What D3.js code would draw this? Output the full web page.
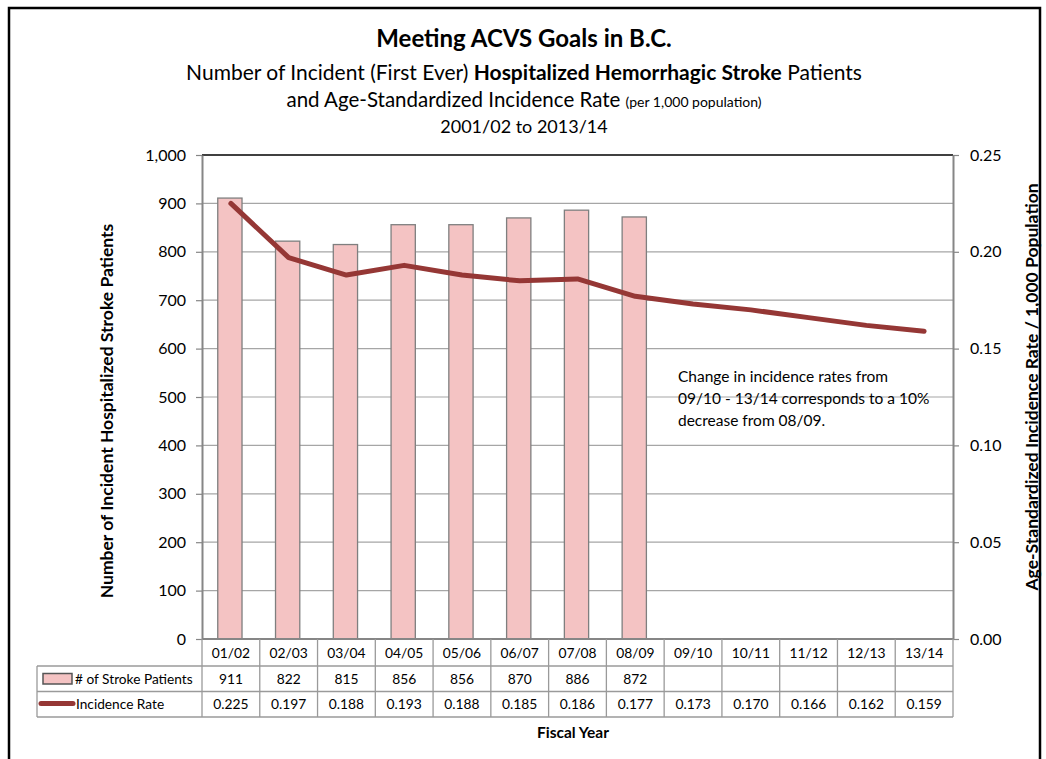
<!DOCTYPE html>
<html>
<head>
<meta charset="utf-8">
<script src="https://cdn.jsdelivr.net/npm/d3@7"></script>
<style>
  body { margin: 0; background: #fff; }
  text { font-family: Lato, "Open Sans", sans-serif; fill: #000; }
</style>
</head>
<body>
<svg id="chart" width="1046" height="759"></svg>
<script>
// data
const years = ['01/02', '02/03', '03/04', '04/05', '05/06', '06/07', '07/08', '08/09', '09/10', '10/11', '11/12', '12/13', '13/14'];
const patients = [911, 822, 815, 856, 856, 870, 886, 872];
const rates = [0.225, 0.197, 0.188, 0.193, 0.188, 0.185, 0.186, 0.177, 0.173, 0.170, 0.166, 0.162, 0.159];
const leftTicks = [0, 100, 200, 300, 400, 500, 600, 700, 800, 900, 1000];
const rightTicks = [0, 0.05, 0.10, 0.15, 0.20, 0.25];

const svg = d3.select('#chart');
const plot = { left: 202, right: 953, top: 155, bottom: 639 };
const barColor = '#f4c3c3', barEdge = '#7f7f7f', lineColor = '#953735', gridColor = '#a6a6a6';

// outer frame
svg.append('rect')
  .attr('x', 9).attr('y', 8).attr('width', 1031).attr('height', 780)
  .attr('fill', 'none').attr('stroke', '#000').attr('stroke-width', 2.5);

// titles
const titles = svg.append('g').attr('text-anchor', 'middle');
titles.append('text').attr('x', 524).attr('y', 47)
  .style('font-size', '24px').style('font-weight', 'bold').text('Meeting ACVS Goals in B.C.');
const sub = titles.append('text').attr('x', 524).attr('y', 80).style('font-size', '21px');
sub.append('tspan').text('Number of Incident (First Ever) ');
sub.append('tspan').style('font-weight', 'bold').text('Hospitalized Hemorrhagic Stroke');
sub.append('tspan').text(' Patients');
const sub2 = titles.append('text').attr('x', 524).attr('y', 107).style('font-size', '20.5px');
sub2.append('tspan').text('and Age-Standardized Incidence Rate ');
sub2.append('tspan').style('font-size', '14px').text('(per 1,000 population)');
titles.append('text').attr('x', 524).attr('y', 133).style('font-size', '18px').text('2001/02 to 2013/14');

// scales
const x = d3.scaleBand().domain(years).range([plot.left, plot.right]).padding(0);
const yL = d3.scaleLinear().domain([0, 1000]).range([plot.bottom, plot.top]);
const yR = d3.scaleLinear().domain([0, 0.25]).range([plot.bottom, plot.top]);

// gridlines
svg.append('g').selectAll('line').data(leftTicks.slice(1, -1)).join('line')
  .attr('x1', plot.left).attr('x2', plot.right)
  .attr('y1', d => yL(d)).attr('y2', d => yL(d))
  .attr('stroke', gridColor).attr('stroke-width', 1.2);
svg.append('line')
  .attr('x1', plot.left).attr('x2', plot.right)
  .attr('y1', yL(1000)).attr('y2', yL(1000))
  .attr('stroke', '#000').attr('stroke-width', 1.5);

// axes
const axL = svg.append('g').attr('transform', `translate(${plot.left},0)`)
  .call(d3.axisLeft(yL).tickValues(leftTicks).tickFormat(d3.format(',')).tickSize(6).tickSizeOuter(0));
const axR = svg.append('g').attr('transform', `translate(${plot.right},0)`)
  .call(d3.axisRight(yR).tickValues(rightTicks).tickFormat(d3.format('.2f')).tickSize(6).tickSizeOuter(0));
[axL, axR].forEach(ax => {
  ax.select('.domain').attr('stroke', '#868686').attr('stroke-width', 2);
  ax.selectAll('.tick line').attr('stroke', '#868686').attr('stroke-width', 1.2);
  ax.selectAll('.tick text').style('font-size', '16px').style('font-family', 'Lato, sans-serif').attr('fill', '#000');
});
axL.selectAll('.tick text').attr('x', -16);
axR.selectAll('.tick text').attr('x', 17);

// axis titles
svg.append('text')
  .attr('transform', `translate(113,${(plot.top + plot.bottom) / 2 + 14}) rotate(-90)`)
  .attr('text-anchor', 'middle').style('font-size', '17.5px').style('font-weight', 'bold')
  .text('Number of Incident Hospitalized Stroke Patients');
svg.append('text')
  .attr('transform', `translate(1038,${(plot.top + plot.bottom) / 2 - 10}) rotate(-90)`)
  .attr('text-anchor', 'middle').style('font-size', '17.5px').style('font-weight', 'bold')
  .text('Age-Standardized Incidence Rate / 1,000 Population');

// bars
const barW = x.bandwidth() * 0.42;
svg.append('g').selectAll('rect').data(patients).join('rect')
  .attr('x', (d, i) => x(years[i]) + x.bandwidth() / 2 - barW / 2 - 1)
  .attr('y', d => yL(d))
  .attr('width', barW)
  .attr('height', d => yL(0) - yL(d))
  .attr('fill', barColor).attr('stroke', barEdge).attr('stroke-width', 1.3);

// rate line
const line = d3.line()
  .x((d, i) => x(years[i]) + x.bandwidth() / 2)
  .y(d => yR(d));
svg.append('path').datum(rates)
  .attr('d', line)
  .attr('fill', 'none').attr('stroke', lineColor).attr('stroke-width', 5)
  .attr('stroke-linejoin', 'round').attr('stroke-linecap', 'round');

// annotation
const note = svg.append('text').attr('x', 678).attr('y', 382).style('font-size', '15.5px');
['Change in incidence rates from', '09/10 - 13/14 corresponds to a  10%', 'decrease from 08/09.']
  .forEach((t, i) => note.append('tspan').attr('x', 678).attr('dy', i ? 22 : 0).text(t));

// data table
const rows = [plot.bottom, 666, 691.5, 717];
const legendLeft = 37;
const table = svg.append('g');
const tableStroke = '#9a9a9a';
// horizontal lines
table.append('line').attr('x1', plot.left).attr('x2', plot.right).attr('y1', rows[0]).attr('y2', rows[0])
  .attr('stroke', '#868686').attr('stroke-width', 2);
rows.slice(1).forEach(y => {
  table.append('line').attr('x1', legendLeft).attr('x2', plot.right).attr('y1', y).attr('y2', y)
    .attr('stroke', tableStroke).attr('stroke-width', 1.3);
});
// vertical lines
const colEdges = years.map(d => x(d)).concat([plot.right]);
table.selectAll('line.col').data(colEdges).join('line').attr('class', 'col')
  .attr('x1', d => d).attr('x2', d => d).attr('y1', rows[0]).attr('y2', rows[3])
  .attr('stroke', tableStroke).attr('stroke-width', 1.3);
table.append('line').attr('x1', legendLeft).attr('x2', legendLeft).attr('y1', rows[1]).attr('y2', rows[3])
  .attr('stroke', tableStroke).attr('stroke-width', 1.3);

// header labels
table.selectAll('text.yr').data(years).join('text').attr('class', 'yr')
  .attr('x', d => x(d) + x.bandwidth() / 2).attr('y', 658)
  .attr('text-anchor', 'middle').style('font-size', '13.8px').text(d => d);
table.selectAll('text.pt').data(patients).join('text').attr('class', 'pt')
  .attr('x', (d, i) => x(years[i]) + x.bandwidth() / 2).attr('y', 684)
  .attr('text-anchor', 'middle').style('font-size', '13.8px').text(d => d);
table.selectAll('text.rt').data(rates).join('text').attr('class', 'rt')
  .attr('x', (d, i) => x(years[i]) + x.bandwidth() / 2).attr('y', 709)
  .attr('text-anchor', 'middle').style('font-size', '13.8px').text(d => d3.format('.3f')(d));

// legend keys
table.append('rect').attr('x', 43).attr('y', 673.5).attr('width', 29).attr('height', 10.5)
  .attr('fill', barColor).attr('stroke', '#555').attr('stroke-width', 1.5);
table.append('text').attr('x', 75).attr('y', 684).style('font-size', '13.7px').text('# of Stroke Patients');
table.append('line').attr('x1', 41).attr('x2', 73).attr('y1', 703.5).attr('y2', 703.5)
  .attr('stroke', lineColor).attr('stroke-width', 5).attr('stroke-linecap', 'round');
table.append('text').attr('x', 76).attr('y', 709).style('font-size', '13.7px').text('Incidence Rate');

// x axis title
svg.append('text').attr('x', 573).attr('y', 738).attr('text-anchor', 'middle')
  .style('font-size', '15.5px').style('font-weight', 'bold').text('Fiscal Year');
</script>
</body>
</html>
